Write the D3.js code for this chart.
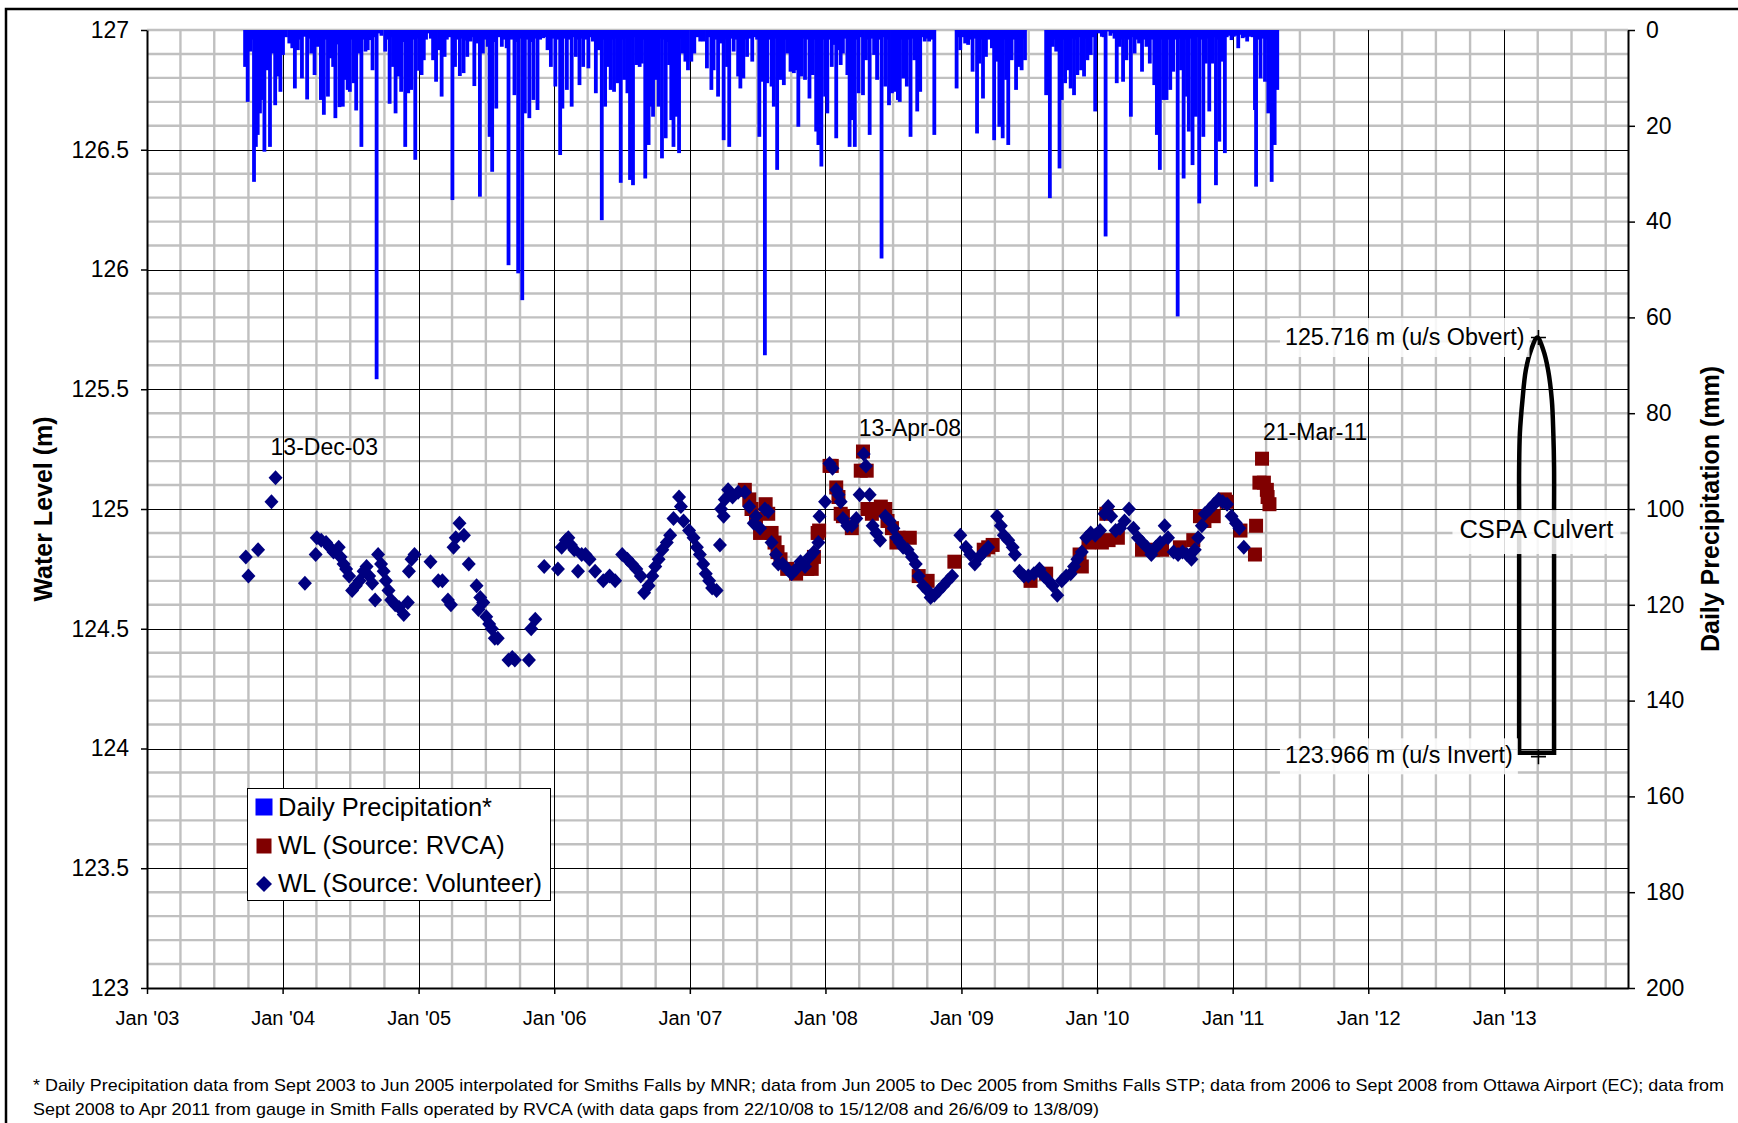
<!DOCTYPE html>
<html>
<head>
<meta charset="utf-8">
<script src="https://cdn.jsdelivr.net/npm/d3@7/dist/d3.min.js"></script>
<style>
html,body{margin:0;padding:0;background:#fff;}
svg{display:block;}
text{font-family:"Liberation Sans",Arial,Helvetica,sans-serif;fill:#000;}
</style>
</head>
<body>
<svg id="chart" width="1738" height="1123"></svg>
<script>
// ---------------- DATA ----------------
const xDomain = ["2003-01-01", "2013-11-30"];
const xTickDates = ["2003-01-01","2004-01-01","2005-01-01","2006-01-01","2007-01-01","2008-01-01","2009-01-01","2010-01-01","2011-01-01","2012-01-01","2013-01-01"];
const xTickLabels = ["Jan '03","Jan '04","Jan '05","Jan '06","Jan '07","Jan '08","Jan '09","Jan '10","Jan '11","Jan '12","Jan '13"];
const yLeftTicks = [123, 123.5, 124, 124.5, 125, 125.5, 126, 126.5, 127];
const yRightTicks = [0, 20, 40, 60, 80, 100, 120, 140, 160, 180, 200];

// Daily precipitation (mm), per year: [day of year, mm]
const precip2003 = [[265,7.7],[272,15.0],[279,4.5],[289,31.7],[294,24.4],[299,21.9],[305,17.4],[311,14.6],[317,25.4],[325,8.4],[332,24.4],[338,4.9],[346,15.7],[353,9.7],[360,12.9],
  [284,2.0],[321,1.5],[342,2.0],[357,1.5],[363,2.5]];
const precip2004 = [[2,5.2],[19,2.8],[27,3.8],[34,12.2],[42,4.2],[53,10.1],[60,1.4],[67,14.5],[78,4.9],[87,9.4],[96,3.5],[104,14.6],[112,17.7],[123,13.9],[130,5.9],[137,7.7],[143,18.4],[154,16.1],[163,16.0],[171,10.4],[176,12.5],[182,12.9],[192,11.1],[199,16.8],[207,4.9],[213,24.4],[224,4.5],[230,4.2],[236,2.1],[243,8.4],[254,72.9],[261,0.7],[277,4.5],[289,15.4],[298,7.7],[305,17.4],[312,9.7],[320,12.9],[331,24.4],[339,13.2],[347,12.5],[358,27.1],
  [10,1.5],[48,2.0],[73,1.8],[83,2.2],[92,1.5],[100,2.5],[118,2.0],[149,3.0],[159,2.0],[167,2.5],[187,2.0],[203,1.5],[219,2.0],[249,1.5],[267,1.2],[283,2.0],[293,1.5],[316,2.0],[326,2.5],[335,1.5],[352,2.0],[362,1.8]];
const precip2005 = [[2,8.5],[9,9.4],[15,6.3],[27,0.7],[40,6.3],[48,10.8],[56,4.2],[63,13.9],[71,5.6],[92,35.5],[99,7.7],[112,9.6],[122,9.0],[132,5.6],[141,2.4],[151,11.7],[159,2.8],[166,34.8],[174,4.9],[187,3.5],[192,22.3],[199,29.6],[210,16.4],[225,3.5],[238,3.8],[243,49.1],[259,13.6],[269,50.8],[280,56.4],[287,17.4],[299,18.4],[310,14.6],[321,16.7],[336,1.7],[348,4.2],[357,7.7],
  [21,2.0],[34,1.8],[77,2.0],[85,1.5],[105,2.0],[117,1.8],[127,2.2],[146,1.5],[180,2.0],[204,2.5],[216,1.5],[231,2.0],[251,2.0],[264,2.5],[275,1.8],[293,2.0],[304,2.5],[316,1.8],[328,2.0],[342,1.5],[352,2.0],[362,1.8]];
const precip2006 = [[4,11.8],[17,26.1],[23,16.4],[35,12.5],[48,16.0],[59,5.6],[69,11.5],[79,7.7],[93,8.0],[105,2.4],[113,13.2],[120,4.2],[129,39.7],[138,16.0],[145,7.7],[153,12.5],[162,12.9],[171,11.1],[180,31.9],[189,10.4],[198,13.2],[205,31.3],[213,32.4],[222,7.3],[231,7.7],[237,7.0],[246,31.0],[255,24.0],[261,16.0],[267,18.1],[273,10.4],[282,16.0],[291,26.8],[301,22.6],[310,7.3],[316,18.8],[322,24.4],[330,18.1],[337,25.7],[346,4.9],[354,6.6],[361,8.4],
  [10,2.0],[29,1.8],[42,2.0],[54,1.5],[64,2.0],[74,1.8],[86,2.0],[99,1.5],[109,2.0],[125,1.8],[134,2.0],[150,1.5],[158,2.0],[167,1.8],[176,2.5],[185,2.0],[194,1.8],[209,2.0],[218,1.5],[227,1.8],[242,2.0],[251,2.5],[278,2.0],[287,1.8],[296,2.0],[306,2.5],[326,2.0],[342,1.8],[350,2.0],[358,1.5]];
const precip2007 = [[5,6.6],[13,4.9],[29,2.4],[38,2.4],[47,8.0],[59,12.5],[65,8.4],[77,13.9],[83,2.8],[92,23.0],[101,7.7],[107,24.4],[119,4.5],[131,9.7],[137,12.2],[145,10.1],[155,5.6],[169,6.6],[188,22.3],[197,10.8],[203,67.9],[209,11.1],[221,11.8],[227,16.0],[236,29.2],[245,10.4],[254,11.5],[263,4.9],[272,8.7],[281,9.0],[287,8.4],[293,20.2],[301,9.7],[311,10.4],[323,14.3],[332,9.4],[341,21.2],[347,24.0],[355,28.5],[365,13.9],
  [9,1.8],[21,1.5],[53,1.5],[71,2.0],[88,1.8],[97,2.0],[113,1.8],[125,2.0],[141,1.5],[150,2.0],[162,1.8],[176,1.5],[182,2.0],[215,2.0],[232,1.8],[241,2.0],[250,1.5],[259,2.0],[268,1.8],[277,2.0],[297,2.2],[306,1.8],[317,2.0],[327,1.5],[337,2.0],[351,2.5],[360,2.0]];
const precip2008 = [[6,17.4],[18,7.7],[24,3.1],[30,22.6],[36,4.2],[42,7.3],[48,4.9],[60,9.4],[66,24.4],[72,18.8],[80,24.4],[90,13.2],[102,13.6],[110,6.3],[120,21.9],[132,5.2],[140,10.4],[152,47.7],[162,11.8],[172,15.7],[180,13.2],[186,12.9],[196,14.6],[201,15.0],[210,10.1],[220,11.8],[230,22.3],[240,6.3],[248,17.0],[256,12.9],[268,2.4],[280,2.4],[294,21.9],[354,12.2],[364,4.2],
  [12,2.0],[54,1.8],[85,2.0],[96,1.5],[115,2.0],[126,1.8],[146,2.0],[157,1.5],[167,2.0],[191,1.8],[205,2.0],[215,1.5],[225,2.0],[235,1.8],[252,2.0],[262,1.5],[274,1.8],[287,2.0],[359,1.5]];
const precip2009 = [[11,2.8],[19,3.1],[31,8.7],[43,21.6],[49,7.0],[59,14.3],[67,5.6],[83,3.8],[89,23.0],[95,6.6],[103,20.2],[112,22.6],[121,10.4],[127,24.0],[136,6.3],[148,12.5],[155,7.7],[163,8.4],[172,6.3],[229,13.6],[239,35.1],[247,3.5],[256,4.5],[265,28.9],[271,14.6],[280,11.1],[287,8.4],[295,12.2],[304,13.6],[313,9.4],[323,8.4],[331,9.7],[340,6.3],[349,5.2],[361,17.0],
  [5,1.5],[25,2.0],[37,1.8],[54,2.0],[63,1.5],[75,2.0],[99,1.8],[117,2.0],[131,1.5],[142,2.0],[168,1.8],[234,1.5],[251,2.0],[260,1.8],[276,2.0],[284,1.5],[291,2.0],[299,1.8],[308,2.0],[318,1.5],[327,2.0],[335,1.8],[344,2.0],[355,1.5]];
const precip2010 = [[6,0.7],[14,1.4],[24,43.1],[32,0.3],[42,0.7],[54,11.1],[62,3.5],[71,10.8],[80,6.3],[92,18.1],[102,4.9],[114,2.8],[122,8.7],[134,3.5],[143,7.0],[155,11.5],[162,21.9],[170,29.2],[179,14.6],[188,14.6],[198,12.5],[206,8.7],[218,59.8],[227,8.4],[234,31.0],[243,13.9],[248,21.2],[258,28.2],[267,18.1],[276,36.2],[287,22.3],[294,7.0],[303,17.0],[311,7.0],[321,32.4],[330,23.3],[339,6.6],[345,25.7],[354,0.7],[363,2.1],
  [19,1.5],[37,1.2],[48,1.8],[58,1.5],[67,2.0],[75,1.8],[86,2.0],[97,1.5],[108,2.0],[118,1.8],[128,2.0],[139,1.5],[149,2.0],[166,1.8],[174,2.0],[184,1.8],[193,2.0],[202,1.5],[212,2.0],[222,1.8],[238,2.0],[253,1.8],[262,2.0],[271,1.5],[281,2.0],[298,1.8],[307,2.0],[316,1.5],[325,2.0],[334,1.8],[350,1.5],[358,1.2]];
const precip2011 = [[4,1.4],[16,3.8],[28,1.7],[40,2.4],[49,1.4],[61,16.7],[64,32.7],[76,10.1],[88,10.8],[97,17.4],[106,31.7],[114,24.0],[121,12.5],
  [10,1.2],[22,1.0],[34,1.5],[45,1.2],[55,1.5],[70,2.0],[82,1.8],[92,2.0],[101,1.8],[110,2.0],[118,1.5]];
const precipYears = [2003,2004,2005,2006,2007,2008,2009,2010,2011];
const precipSeries = [precip2003,precip2004,precip2005,precip2006,precip2007,precip2008,precip2009,precip2010,precip2011];

// Water level (m), RVCA
const rvcaWL = [
["2007-05-29",125.08],["2007-06-10",125.04],["2007-06-16",125.00],["2007-06-28",124.96],["2007-07-09",124.90],["2007-07-24",125.02],["2007-07-31",124.98],["2007-08-09",124.90],["2007-08-17",124.86],["2007-08-25",124.82],["2007-09-02",124.79],["2007-09-20",124.75],["2007-10-14",124.73],["2007-11-13",124.75],["2007-11-25",124.75],["2007-12-01",124.80],["2007-12-11",124.90],["2007-12-15",124.91],
["2008-01-12",125.18],["2008-01-18",125.18],["2008-01-30",125.09],["2008-02-05",125.05],["2008-02-11",124.98],["2008-02-17",124.97],["2008-03-12",124.92],["2008-04-05",125.16],["2008-04-11",125.24],["2008-04-21",125.16],["2008-04-23",125.00],["2008-05-05",124.98],["2008-05-14",125.00],["2008-05-29",125.01],["2008-06-10",125.00],["2008-06-16",124.95],["2008-06-28",124.92],["2008-07-10",124.86],["2008-07-16",124.88],["2008-08-15",124.88],["2008-09-08",124.72],["2008-10-02",124.70],["2008-12-13",124.78],
["2009-03-02",124.83],["2009-03-14",124.84],["2009-03-26",124.85],["2009-07-06",124.70],["2009-08-17",124.73],["2009-11-15",124.81],["2009-11-21",124.76],["2009-12-09",124.86],["2009-12-21",124.88],
["2010-01-14",124.86],["2010-01-26",124.98],["2010-02-01",124.87],["2010-02-26",124.88],["2010-05-02",124.83],["2010-06-01",124.83],["2010-06-25",124.83],["2010-08-12",124.84],["2010-09-17",124.87],["2010-10-05",124.97],["2010-10-17",124.95],["2010-11-11",124.97],["2010-12-11",125.04],["2010-12-16",125.03],
["2011-01-22",124.91],["2011-03-02",124.81],["2011-03-05",124.93],["2011-03-14",125.11],["2011-03-21",125.21],["2011-03-26",125.11],["2011-04-03",125.08],["2011-04-05",125.05],["2011-04-10",125.02]
];

// Water level (m), volunteer readings
const volunteerWL = [
["2003-09-24",124.80],["2003-10-01",124.72],["2003-10-27",124.83],["2003-12-02",125.03],["2003-12-13",125.13],
["2004-03-01",124.69],["2004-03-30",124.81],["2004-04-02",124.88],["2004-04-14",124.87],["2004-04-27",124.86],["2004-05-07",124.84],["2004-05-17",124.82],["2004-05-31",124.84],["2004-06-05",124.80],["2004-06-13",124.77],["2004-06-20",124.75],["2004-06-28",124.72],["2004-07-06",124.66],["2004-07-16",124.68],["2004-07-26",124.70],["2004-08-06",124.74],["2004-08-14",124.76],["2004-08-21",124.72],["2004-08-29",124.69],["2004-09-06",124.62],["2004-09-14",124.81],["2004-09-22",124.77],["2004-09-29",124.74],["2004-10-05",124.70],["2004-10-12",124.66],["2004-10-19",124.62],["2004-10-30",124.60],["2004-11-09",124.59],["2004-11-22",124.56],["2004-12-03",124.61],["2004-12-06",124.74],["2004-12-13",124.79],["2004-12-21",124.81],
["2005-02-02",124.78],["2005-02-23",124.70],["2005-03-06",124.70],["2005-03-21",124.62],["2005-03-29",124.60],["2005-04-05",124.84],["2005-04-11",124.88],["2005-04-21",124.94],["2005-05-03",124.89],["2005-05-16",124.77],["2005-06-06",124.68],["2005-06-11",124.58],["2005-06-16",124.63],["2005-06-24",124.61],["2005-07-02",124.55],["2005-07-10",124.52],["2005-07-17",124.50],["2005-07-25",124.46],["2005-08-02",124.46],["2005-08-31",124.37],["2005-09-10",124.38],["2005-09-17",124.37],["2005-10-25",124.37],["2005-10-31",124.50],["2005-11-11",124.54],["2005-12-05",124.76],
["2006-01-11",124.75],["2006-01-21",124.84],["2006-02-01",124.87],["2006-02-08",124.88],["2006-02-15",124.85],["2006-02-24",124.83],["2006-03-06",124.74],["2006-03-16",124.81],["2006-03-26",124.81],["2006-04-06",124.79],["2006-04-21",124.74],["2006-05-13",124.70],["2006-05-30",124.72],["2006-06-14",124.70],["2006-07-03",124.81],["2006-07-17",124.79],["2006-07-29",124.77],["2006-08-10",124.75],["2006-08-22",124.72],["2006-08-31",124.65],["2006-09-12",124.68],["2006-09-22",124.72],["2006-09-30",124.76],["2006-10-09",124.79],["2006-10-19",124.83],["2006-10-31",124.86],["2006-11-09",124.89],["2006-11-18",124.96],["2006-12-03",125.05],["2006-12-08",125.01],["2006-12-15",124.95],["2006-12-30",124.91],
["2007-01-11",124.88],["2007-01-20",124.84],["2007-01-28",124.81],["2007-02-06",124.77],["2007-02-13",124.73],["2007-02-22",124.70],["2007-03-02",124.67],["2007-03-14",124.66],["2007-03-23",124.85],["2007-03-26",125.00],["2007-04-02",124.97],["2007-04-05",125.04],["2007-04-14",125.08],["2007-04-26",125.05],["2007-05-11",125.07],["2007-05-29",125.07],["2007-06-10",125.01],["2007-06-22",124.94],["2007-06-28",124.97],["2007-07-09",124.92],["2007-07-22",125.00],["2007-07-31",124.99],["2007-08-09",124.86],["2007-08-21",124.81],["2007-08-27",124.77],["2007-09-08",124.77],["2007-09-20",124.75],["2007-10-02",124.73],["2007-10-14",124.75],["2007-10-26",124.78],["2007-11-07",124.76],["2007-11-19",124.80],["2007-12-01",124.82],["2007-12-13",124.86],["2007-12-16",124.97],["2007-12-31",125.03],
["2008-01-12",125.19],["2008-01-20",125.17],["2008-01-30",125.08],["2008-02-05",125.06],["2008-02-11",125.03],["2008-02-17",124.96],["2008-02-29",124.93],["2008-03-12",124.93],["2008-03-24",124.96],["2008-04-02",125.06],["2008-04-13",125.23],["2008-04-19",125.18],["2008-04-29",125.06],["2008-05-07",124.93],["2008-05-17",124.90],["2008-05-27",124.87],["2008-06-10",124.97],["2008-06-22",124.95],["2008-07-02",124.92],["2008-07-10",124.88],["2008-07-19",124.86],["2008-07-28",124.84],["2008-08-09",124.83],["2008-08-21",124.80],["2008-08-31",124.77],["2008-09-08",124.72],["2008-09-20",124.68],["2008-10-02",124.66],["2008-10-10",124.63],["2008-10-20",124.64],["2008-11-01",124.66],["2008-11-13",124.68],["2008-11-25",124.70],["2008-12-07",124.72],["2008-12-29",124.89],
["2009-01-13",124.84],["2009-01-25",124.81],["2009-02-06",124.77],["2009-02-18",124.80],["2009-03-02",124.82],["2009-03-14",124.84],["2009-04-07",124.97],["2009-04-17",124.93],["2009-04-25",124.89],["2009-05-07",124.87],["2009-05-19",124.84],["2009-05-25",124.81],["2009-06-06",124.74],["2009-06-18",124.72],["2009-06-30",124.72],["2009-07-15",124.73],["2009-07-30",124.75],["2009-08-11",124.72],["2009-08-23",124.70],["2009-09-04",124.68],["2009-09-16",124.64],["2009-09-28",124.70],["2009-10-10",124.72],["2009-10-22",124.73],["2009-10-31",124.76],["2009-11-09",124.79],["2009-11-21",124.82],["2009-12-03",124.88],["2009-12-15",124.90],["2009-12-27",124.89],
["2010-01-09",124.91],["2010-01-21",124.98],["2010-01-31",125.01],["2010-02-08",124.97],["2010-02-20",124.91],["2010-03-04",124.92],["2010-03-16",124.95],["2010-03-28",125.00],["2010-04-09",124.92],["2010-04-21",124.88],["2010-05-03",124.86],["2010-05-15",124.84],["2010-05-27",124.81],["2010-06-08",124.84],["2010-06-20",124.86],["2010-07-02",124.93],["2010-07-11",124.88],["2010-07-26",124.82],["2010-08-07",124.81],["2010-08-19",124.82],["2010-08-31",124.81],["2010-09-12",124.79],["2010-09-21",124.83],["2010-09-30",124.88],["2010-10-10",124.93],["2010-10-18",124.98],["2010-10-31",125.00],["2010-11-12",125.02],["2010-11-24",125.04],["2010-12-05",125.03],["2010-12-17",125.02],["2010-12-29",124.97],
["2011-01-10",124.94],["2011-01-19",124.92],["2011-01-31",124.84]
];

// CSPA culvert outline (date, WL m)
const culvertArch = [["2013-02-10",125.008],["2013-02-10",125.175],["2013-02-12",125.317],["2013-02-19",125.455],["2013-02-28",125.580],["2013-03-14",125.664],["2013-03-31",125.716],["2013-04-16",125.664],["2013-04-29",125.580],["2013-05-09",125.455],["2013-05-13",125.317],["2013-05-15",125.175],["2013-05-15",125.008]];
const culvertBase = [["2013-05-15",125.008],["2013-05-15",123.982],["2013-02-10",123.982],["2013-02-10",125.008]];
const culvertMarks = [["2013-04-03",125.716],["2013-04-03",123.966]];
const culvertLabels = ["125.716 m (u/s Obvert)", "123.966 m (u/s Invert)"];

const pointLabels = [["13-Dec-03","2003-12-13",125.13],["13-Apr-08","2008-04-13",125.23],["21-Mar-11","2011-03-21",125.21]];
const legendLabels = ["Daily Precipitation*", "WL (Source: RVCA)", "WL (Source: Volunteer)"];
const footnoteLines = [
"* Daily Precipitation data from Sept 2003 to Jun 2005 interpolated for Smiths Falls by MNR; data from Jun 2005 to Dec 2005 from Smiths Falls STP; data from 2006 to Sept 2008 from Ottawa Airport (EC); data from",
"Sept 2008 to Apr 2011 from gauge in Smith Falls operated by RVCA (with data gaps from 22/10/08 to 15/12/08 and 26/6/09 to 13/8/09)"
];

// ---------------- DRAW ----------------
const FONT = "'Liberation Sans', Arial, Helvetica, sans-serif";
const parse = d3.timeParse("%Y-%m-%d");
const M = {left:147, right:1628, top:30, bottom:988};
const svg = d3.select("#chart");
svg.append("rect").attr("width",1738).attr("height",1123).attr("fill","#fff");
svg.append("rect").attr("x",6).attr("y",9).attr("width",1800).attr("height",1300)
  .attr("fill","none").attr("stroke","#000").attr("stroke-width",2.5);

const x = d3.scaleTime().domain(xDomain.map(parse)).range([M.left, M.right]);
const yWL = d3.scaleLinear().domain([123,127]).range([M.bottom, M.top]);
const yP = d3.scaleLinear().domain([0,200]).range([M.top, M.bottom]);

// gridlines
const grid = svg.append("g");
const minorY = yWL.ticks(40).filter(v => Math.abs(v*2 - Math.round(v*2)) > 1e-6 || v === 127);
grid.selectAll(".mh").data(minorY).join("line")
  .attr("x1",M.left).attr("x2",M.right).attr("y1",d=>yWL(d)).attr("y2",d=>yWL(d))
  .attr("stroke","#c0c0c0").attr("stroke-width",2.4);
const minorX = d3.timeMonth.every(3).range(x.domain()[0], x.domain()[1]).filter(d => d.getMonth() !== 0);
grid.selectAll(".mv").data(minorX).join("line")
  .attr("x1",d=>x(d)).attr("x2",d=>x(d)).attr("y1",M.top).attr("y2",M.bottom)
  .attr("stroke","#c0c0c0").attr("stroke-width",2.4);
const majorY = yLeftTicks.filter(v => v > 123 && v < 127);
grid.selectAll(".Mh").data(majorY).join("line")
  .attr("x1",M.left).attr("x2",M.right).attr("y1",d=>Math.round(yWL(d))+0.5).attr("y2",d=>Math.round(yWL(d))+0.5)
  .attr("stroke","#000").attr("stroke-width",1);
const majorX = xTickDates.slice(1).map(parse);
grid.selectAll(".Mv").data(majorX).join("line")
  .attr("x1",d=>Math.round(x(d))+0.5).attr("x2",d=>Math.round(x(d))+0.5).attr("y1",M.top).attr("y2",M.bottom)
  .attr("stroke","#000").attr("stroke-width",1);

// precipitation bars
const precip = [];
precipSeries.forEach((arr, i) => arr.forEach(([doy, mm]) => precip.push({date: new Date(precipYears[i], 0, doy), mm})));
svg.append("g").selectAll("rect").data(precip).join("rect")
  .attr("x", d => x(d.date) - 1.9).attr("width", 3.8)
  .attr("y", yP(0)).attr("height", d => yP(d.mm) - yP(0))
  .attr("fill", "#0000ff");

// axes
function styleAxis(g, size){
  g.attr("font-family", FONT).attr("font-size", size);
  g.select(".domain").attr("stroke","#000").attr("stroke-width",2);
  g.selectAll(".tick line").attr("stroke","#000").attr("stroke-width",1.5);
  g.selectAll(".tick text").attr("fill","#000");
}
const axL = svg.append("g").attr("transform",`translate(${M.left},0)`)
  .call(d3.axisLeft(yWL).tickValues(yLeftTicks).tickSize(6).tickSizeOuter(0).tickPadding(12).tickFormat(d3.format("")));
styleAxis(axL, 23);
const axR = svg.append("g").attr("transform",`translate(${M.right},0)`)
  .call(d3.axisRight(yP).tickValues(yRightTicks).tickSize(7).tickSizeOuter(0).tickPadding(11).tickFormat(d3.format("")));
styleAxis(axR, 23);
const axB = svg.append("g").attr("transform",`translate(0,${M.bottom})`)
  .call(d3.axisBottom(x).tickValues(xTickDates.map(parse)).tickSize(6).tickSizeOuter(0).tickFormat((d,i)=>xTickLabels[i]));
styleAxis(axB, 20);
axB.selectAll(".tick text").attr("y", 37).attr("dy", 0);

// culvert outline
const ptx = d => x(parse(d[0])), pty = d => yWL(d[1]);
svg.append("path").attr("d", d3.line().x(ptx).y(pty).curve(d3.curveCatmullRom.alpha(0.5))(culvertArch))
  .attr("fill","none").attr("stroke","#000").attr("stroke-width",4.5);
svg.append("path").attr("d", d3.line().x(ptx).y(pty)(culvertBase))
  .attr("fill","none").attr("stroke","#000").attr("stroke-width",4.5).attr("stroke-linejoin","miter");

// RVCA squares
svg.append("g").selectAll("rect").data(rvcaWL).join("rect")
  .attr("x", d => ptx(d) - 7).attr("y", d => pty(d) - 7)
  .attr("width", 14).attr("height", 14).attr("fill", "#800000");

// Volunteer diamonds
const diamond = "M0,-7.5L7,0L0,7.5L-7,0Z";
svg.append("g").selectAll("path").data(volunteerWL).join("path")
  .attr("transform", d => `translate(${ptx(d)},${pty(d)})`)
  .attr("d", diamond).attr("fill", "#000080");

// labels with white boxes
function boxedLabel(txt, tx, ty, anchor, size, pad){
  const g = svg.append("g");
  const r = g.append("rect").attr("fill","#fff").attr("fill-opacity",0.85);
  const t = g.append("text").attr("x",tx).attr("y",ty).attr("text-anchor",anchor)
    .attr("font-size",size).attr("font-family",FONT).text(txt);
  const b = t.node().getBBox();
  r.attr("x", b.x - pad[0]).attr("y", b.y - pad[1]).attr("width", b.width + 2*pad[0]).attr("height", b.height + pad[1] + pad[2]);
}
const mObv = culvertMarks[0], mInv = culvertMarks[1];
boxedLabel(culvertLabels[0], ptx(mObv) - 253.5, pty(mObv) + 7.5, "start", 23.3, [5,6,7]);
boxedLabel(culvertLabels[1], ptx(mInv) - 253.5, pty(mInv) + 6.7, "start", 23.3, [5,4,6]);
boxedLabel("CSPA Culvert", ptx(mObv) - 2, yWL(124.91) + 7.5, "middle", 25.5, [7,5,11]);

// plus markers
svg.append("g").selectAll("path").data(culvertMarks).join("path")
  .attr("transform", d => `translate(${ptx(d)},${pty(d)})`)
  .attr("d", "M-7.5,0H7.5M0,-7.5V7.5").attr("stroke","#000").attr("stroke-width",1.6).attr("fill","none");

// point labels
const labelOffsets = [[-5,-23],[-5,-18],[1,-19]];
svg.append("g").selectAll("text").data(pointLabels).join("text")
  .attr("x", (d,i) => x(parse(d[1])) + labelOffsets[i][0])
  .attr("y", (d,i) => yWL(d[2]) + labelOffsets[i][1])
  .attr("font-size", 23).attr("font-family", FONT).text(d => d[0]);

// axis titles
svg.append("text").attr("transform","translate(52,509) rotate(-90)").attr("text-anchor","middle")
  .attr("font-size",25).attr("font-weight","bold").attr("font-family",FONT).text("Water Level (m)");
svg.append("text").attr("transform","translate(1719,509) rotate(-90)").attr("text-anchor","middle")
  .attr("font-size",25).attr("font-weight","bold").attr("font-family",FONT).text("Daily Precipitation (mm)");

// legend
const lg = svg.append("g").attr("transform","translate(247.5,788.5)");
lg.append("rect").attr("width",303).attr("height",112).attr("fill","#fff").attr("stroke","#000").attr("stroke-width",1);
lg.append("rect").attr("x",8).attr("y",10).attr("width",17).attr("height",17).attr("fill","#0000ff");
lg.append("rect").attr("x",9).attr("y",50).attr("width",15).attr("height",15).attr("fill","#800000");
lg.append("path").attr("transform","translate(16.5,95.5)").attr("d","M0,-8L8,0L0,8L-8,0Z").attr("fill","#000080");
lg.selectAll("text").data(legendLabels).join("text")
  .attr("x",30.5).attr("y",(d,i)=>27 + i*38.2)
  .attr("font-size",25.5).attr("font-family",FONT).text(d=>d);

// footnote
const fnLen = [1691, 1066];
svg.append("g").selectAll("text").data(footnoteLines).join("text")
  .attr("x",33).attr("y",(d,i)=>1091 + i*23.5)
  .attr("font-size",17).attr("font-family",FONT)
  .attr("textLength",(d,i)=>fnLen[i]).attr("lengthAdjust","spacingAndGlyphs").text(d=>d);
</script>
</body>
</html>
